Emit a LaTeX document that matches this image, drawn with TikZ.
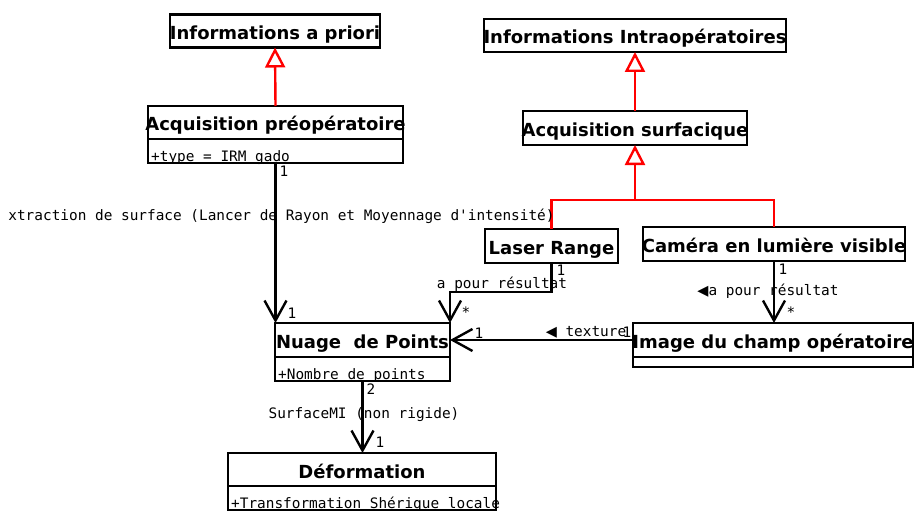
\documentclass[tikz,border=0pt]{standalone}
\usepackage{fontspec}
\setmainfont{DejaVu Sans}
\setmonofont{DejaVu Sans Mono}
\usetikzlibrary{arrows.meta,positioning}
\tikzset{
  classbox/.style={draw,line width=2.4pt,inner sep=0pt,outer sep=0pt,minimum height=33pt,text height=17pt,text depth=0pt,font=\fontsize{18}{20}\selectfont\bfseries},
  attrbox/.style={draw,line width=2.4pt,inner sep=0pt,outer sep=0pt,minimum height=24pt},
  attrtext/.style={inner sep=0pt,anchor=base west,font=\fontsize{14.4}{16}\selectfont\ttfamily},
  lbl/.style={inner sep=0pt,font=\fontsize{14.4}{16}\selectfont\ttfamily},
  gen/.style={red,line width=2.4pt,-{Triangle[open,length=20pt,width=20pt]}},
  assoc/.style={line width=2.4pt,-{Straight Barb[length=20pt,width=22pt]}}
}
\begin{document}
\begin{tikzpicture}[x=1pt,y=-1pt]
\useasboundingbox (0,0) rectangle (914,511);
\node[classbox,minimum width=210pt] (apriori) at (275,31) {\makebox[0pt]{Informations a priori}};
\node[classbox,minimum width=255pt] (preop) at (275.5,122.5) {\makebox[0pt]{Acquisition préopératoire}};
\node[attrbox,minimum width=255pt,below=0pt of preop] (preopattr) {};
\node[attrtext] (preoptype) at ([shift={(3pt,2pt)}]preopattr.south west) {+type = IRM gado};
\node[classbox,minimum width=302pt] (intra) at (635,35.5) {\makebox[0pt]{Informations Intraopératoires}};
\node[classbox,minimum width=224pt,minimum height=34pt] (surf) at (635,128) {\makebox[0pt]{Acquisition surfacique}};
\node[classbox,minimum width=133pt,minimum height=34pt] (laser) at (551.5,246) {\makebox[0pt]{Laser Range}};
\node[classbox,minimum width=262pt,minimum height=34pt] (camera) at (774,244) {\makebox[0pt]{Caméra en lumière visible}};
\node[classbox,minimum width=175pt,minimum height=34pt] (nuage) at (362.5,340) {\makebox[0pt]{Nuage\ \ de Points}};
\node[attrbox,minimum width=175pt,below=0pt of nuage] (nuageattr) {};
\node[attrtext] (nuagenb) at ([shift={(3pt,2pt)}]nuageattr.south west) {+Nombre de points};
\node[classbox,minimum width=280pt,minimum height=34pt] (image) at (773,340) {\makebox[0pt]{Image du champ opératoire}};
\node[attrbox,minimum width=280pt,minimum height=10pt,below=0pt of image] (imageattr) {};
\node[classbox,minimum width=268pt] (deform) at (362,469.5) {Déformation};
\node[attrbox,minimum width=268pt,below=0pt of deform] (deformattr) {};
\node[attrtext] (deformtr) at ([shift={(3pt,2pt)}]deformattr.south west) {+Transformation Shérique locale};
\coordinate (join) at (635,200);
\coordinate (laserbend) at (450,292);
\draw[gen] (preop.north) -- (apriori.south);
\draw[gen] (surf.north) -- (intra.south);
\draw[red,line width=2.4pt] (laser.north) |- (join) -| (camera.north);
\draw[gen] (join) -- (surf.south);
\draw[assoc] (preopattr.south) -- (preopattr.south |- nuage.north);
\draw[assoc] (laser.south) |- (laserbend) -- (nuage.north east);
\draw[assoc] (camera.south) -- (camera.south |- image.north);
\draw[assoc] (image.west) -- (nuage.east);
\draw[assoc] (nuageattr.south) -- (nuageattr.south |- deform.north);
\node[lbl] (m1) at (284,171) {1};
\node[lbl] (extr) at (281.5,216) {xtraction de surface (Lancer de Rayon et Moyennage d'intensité)};
\node[lbl] (m2) at (292,313) {1};
\node[lbl] (m3) at (561,270) {1};
\node[lbl] (laserres) at (502,284) {a pour résultat};
\node[lbl] (m4) at (466,312) {*};
\node[lbl] (m5) at (783,269) {1};
\node[lbl] (camres) at (768,291) {{\rmfamily ◀}a pour résultat};
\node[lbl] (m6) at (791,312) {*};
\node[lbl] (m7) at (479,333) {1};
\node[lbl] (texture) at (586,332) {{\rmfamily ◀} texture};
\node[lbl] (m8) at (627,332) {1};
\node[lbl] (m9) at (371,389) {2};
\node[lbl] (surfmi) at (364,415) {SurfaceMI (non rigide)};
\node[lbl] (m10) at (380,442) {1};
\end{tikzpicture}
\end{document}
